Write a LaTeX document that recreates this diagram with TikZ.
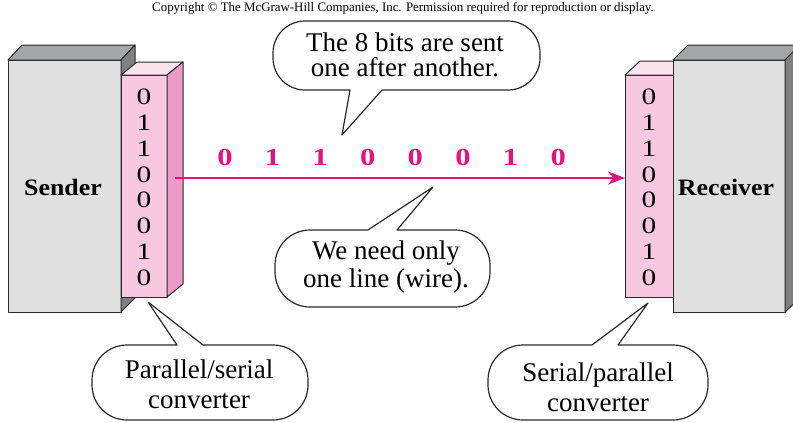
\documentclass[tikz,border=0pt]{standalone}
\usepackage{fontspec}
\setmainfont{Liberation Serif}
\newfontfamily\widefont{Liberation Serif}[FakeStretch=1.25]
\newfontfamily\labelfont{Liberation Serif}[FakeStretch=1.1]
\usetikzlibrary{arrows.meta}
\definecolor{frontgray}{HTML}{E0E0E0}
\definecolor{topgray}{HTML}{A3A5A7}
\definecolor{sidegray}{HTML}{7E8082}
\definecolor{pinkfront}{HTML}{F7C8E0}
\definecolor{pinktop}{HTML}{FBE4F0}
\definecolor{pinkside}{HTML}{EE9AC6}
\definecolor{magentaline}{HTML}{E2147F}
\definecolor{edge}{HTML}{2A2A2A}
\tikzset{
  facet/.style={draw=edge, line width=1pt, line join=round},
  bubble/.style={draw=edge, fill=white, line width=1.2pt, line join=round},
  bubbletext/.style={align=center, inner sep=0pt, font=\fontsize{27}{28}\selectfont},
  bittext/.style={inner sep=0pt, font=\widefont\fontsize{23.5}{23.5}\selectfont},
  wirebit/.style={inner sep=0pt, text=magentaline, font=\widefont\fontsize{24.5}{24.5}\selectfont\bfseries},
  boxlabel/.style={inner sep=0pt, font=\labelfont\fontsize{23.5}{23.5}\selectfont\bfseries},
  wire/.style={draw=magentaline, line width=2.6pt, -{Stealth[length=17pt,width=13pt]}}
}
\begin{document}
\begin{tikzpicture}[x=1pt,y=-1pt]
\useasboundingbox (0,0) rectangle (793,423);
\fill[white] (0,0) rectangle (793,423);
\clip (0,0) rectangle (793,423);

% copyright line
\node[inner sep=0pt, font=\fontsize{12.9}{12.9}\selectfont] (copy) at (403,8)
  {Copyright \textcopyright{} The McGraw-Hill Companies, Inc. Permission required for reproduction or display.};

% ---- Sender box ----
\draw[facet, fill=frontgray] (8,60) rectangle (121,312);
\draw[facet, fill=topgray] (8,60) -- (22,45) -- (135,45) -- (121,60) -- cycle;
\draw[facet, fill=sidegray] (121,60) -- (135,45) -- (135,298) -- (121,312) -- cycle;
\node[boxlabel] (sender) at (63,187) {Sender};

% ---- Parallel/serial converter ----
\draw[facet, fill=pinkfront] (121,75) rectangle (167,297);
\draw[facet, fill=pinktop] (121,75) -- (137,62) -- (183,62) -- (167,75) -- cycle;
\draw[facet, fill=pinkside] (167,75) -- (183,62) -- (183,284) -- (167,297) -- cycle;
\foreach \b [count=\i from 0] in {0,1,1,0,0,0,1,0}
  \node[bittext] (ls\i) at (144,{97+25.8*\i}) {\b};
\coordinate (src) at (175,178);

% ---- Serial/parallel converter ----
\draw[facet, fill=pinkfront] (625,75) rectangle (673,297);
\draw[facet, fill=pinktop] (625,75) -- (640,61) -- (688,61) -- (673,75) -- cycle;
\foreach \b [count=\i from 0] in {0,1,1,0,0,0,1,0}
  \node[bittext] (rs\i) at (649,{97+25.8*\i}) {\b};
\coordinate (dst) at (625,178);

% ---- Receiver box ----
\draw[facet, fill=frontgray] (673,60) rectangle (785,312);
\draw[facet, fill=topgray] (673,60) -- (688,45) -- (800,45) -- (785,60) -- cycle;
\draw[facet, fill=sidegray] (785,60) -- (800,45) -- (800,298) -- (785,312) -- cycle;
\node[boxlabel] (receiver) at (726,187) {Receiver};

% ---- wire and bits ----
\draw[wire] (src) -- (dst);
\foreach \b [count=\i from 0] in {0,1,1,0,0,0,1,0}
  \node[wirebit] (wb\i) at ({225+47.6*\i},157) {\b};

% ---- top bubble ----
\coordinate (tiptop) at (342,135);
\draw[bubble] (tiptop) -- (382,90) [rounded corners=32] -- (540,90) -- (540,21) -- (273,21) -- (273,90) [sharp corners] -- (350,90) -- cycle;
\node[bubbletext, font=\fontsize{27}{24.5}\selectfont] (ttop) at (405,55) {The 8 bits are sent\\one after another.};

% ---- middle bubble ----
\coordinate (tipmid) at (433,187);
\draw[bubble] (tipmid) -- (397,230) [rounded corners=35] -- (490,230) -- (490,307) -- (275,307) -- (275,230) [sharp corners] -- (368,230) -- cycle;
\node[bubbletext] (tmid) at (386,267) {We need only\\one line (wire).};

% ---- bottom-left bubble ----
\coordinate (tipleft) at (148,302);
\draw[bubble] (tipleft) -- (203,345) [rounded corners=35] -- (308,345) -- (308,420) -- (92,420) -- (92,345) [sharp corners] -- (177,345) -- cycle;
\node[bubbletext, font=\fontsize{27}{30}\selectfont] (tleft) at (199,384) {Parallel/serial\\converter};

% ---- bottom-right bubble ----
\coordinate (tipright) at (648,303);
\draw[bubble] (tipright) -- (618,345) [rounded corners=35] -- (708,345) -- (708,420) -- (488,420) -- (488,345) [sharp corners] -- (592,345) -- cycle;
\node[bubbletext, font=\fontsize{27}{30}\selectfont] (tright) at (598,387) {Serial/parallel\\converter};
\end{tikzpicture}
\end{document}
